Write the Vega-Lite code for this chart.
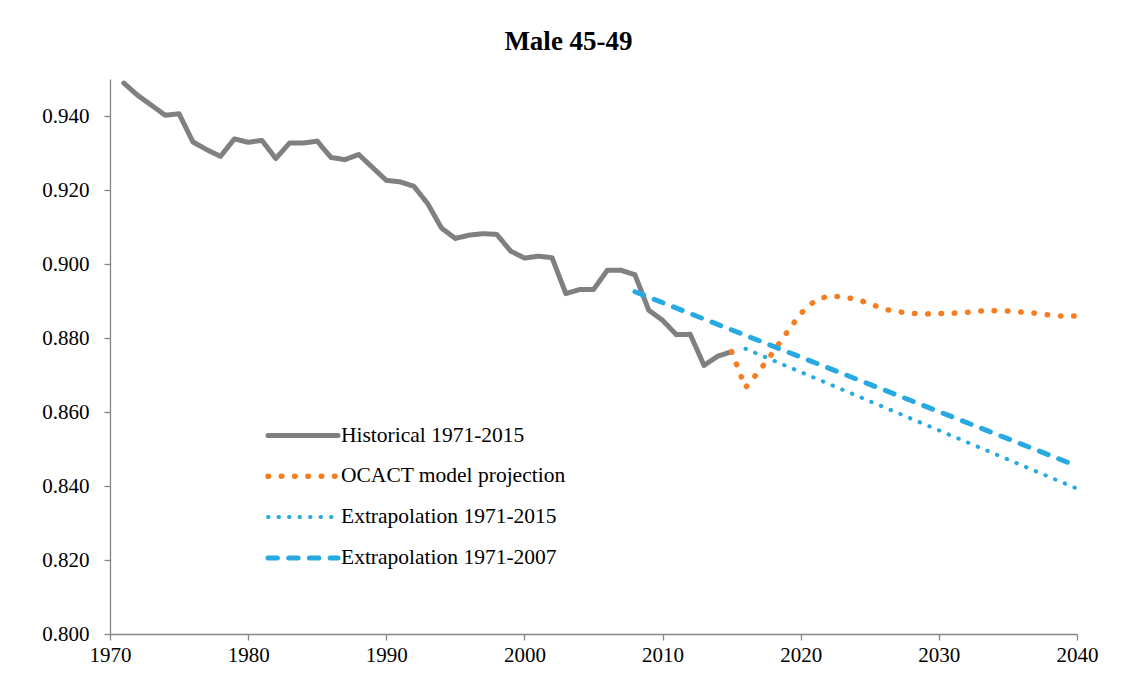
{
  "$schema": "https://vega.github.io/schema/vega-lite/v6.json",
  "width": 967,
  "height": 555,
  "autosize": {"type": "none"},
  "padding": {"left": 110, "top": 79, "right": 45, "bottom": 43},
  "background": "white",
  "title": {"text": "Male 45-49", "font": "Liberation Serif", "fontSize": 27, "fontWeight": "bold", "color": "black", "anchor": "middle", "frame": "group", "dx": -25, "baseline": "alphabetic", "offset": 2},
  "config": {"view": {"stroke": null}},
  "data": {"values": [
    {"series": "Historical 1971-2015", "year": 1971, "value": 0.9489},
    {"series": "Historical 1971-2015", "year": 1972, "value": 0.9456},
    {"series": "Historical 1971-2015", "year": 1973, "value": 0.9429},
    {"series": "Historical 1971-2015", "year": 1974, "value": 0.9402},
    {"series": "Historical 1971-2015", "year": 1975, "value": 0.9406},
    {"series": "Historical 1971-2015", "year": 1976, "value": 0.9330},
    {"series": "Historical 1971-2015", "year": 1977, "value": 0.9309},
    {"series": "Historical 1971-2015", "year": 1978, "value": 0.9291},
    {"series": "Historical 1971-2015", "year": 1979, "value": 0.9338},
    {"series": "Historical 1971-2015", "year": 1980, "value": 0.9329},
    {"series": "Historical 1971-2015", "year": 1981, "value": 0.9334},
    {"series": "Historical 1971-2015", "year": 1982, "value": 0.9285},
    {"series": "Historical 1971-2015", "year": 1983, "value": 0.9327},
    {"series": "Historical 1971-2015", "year": 1984, "value": 0.9327},
    {"series": "Historical 1971-2015", "year": 1985, "value": 0.9332},
    {"series": "Historical 1971-2015", "year": 1986, "value": 0.9288},
    {"series": "Historical 1971-2015", "year": 1987, "value": 0.9282},
    {"series": "Historical 1971-2015", "year": 1988, "value": 0.9296},
    {"series": "Historical 1971-2015", "year": 1989, "value": 0.9261},
    {"series": "Historical 1971-2015", "year": 1990, "value": 0.9226},
    {"series": "Historical 1971-2015", "year": 1991, "value": 0.9222},
    {"series": "Historical 1971-2015", "year": 1992, "value": 0.9210},
    {"series": "Historical 1971-2015", "year": 1993, "value": 0.9163},
    {"series": "Historical 1971-2015", "year": 1994, "value": 0.9097},
    {"series": "Historical 1971-2015", "year": 1995, "value": 0.9069},
    {"series": "Historical 1971-2015", "year": 1996, "value": 0.9078},
    {"series": "Historical 1971-2015", "year": 1997, "value": 0.9082},
    {"series": "Historical 1971-2015", "year": 1998, "value": 0.9080},
    {"series": "Historical 1971-2015", "year": 1999, "value": 0.9035},
    {"series": "Historical 1971-2015", "year": 2000, "value": 0.9016},
    {"series": "Historical 1971-2015", "year": 2001, "value": 0.9021},
    {"series": "Historical 1971-2015", "year": 2002, "value": 0.9017},
    {"series": "Historical 1971-2015", "year": 2003, "value": 0.8920},
    {"series": "Historical 1971-2015", "year": 2004, "value": 0.8931},
    {"series": "Historical 1971-2015", "year": 2005, "value": 0.8931},
    {"series": "Historical 1971-2015", "year": 2006, "value": 0.8983},
    {"series": "Historical 1971-2015", "year": 2007, "value": 0.8983},
    {"series": "Historical 1971-2015", "year": 2008, "value": 0.8971},
    {"series": "Historical 1971-2015", "year": 2009, "value": 0.8875},
    {"series": "Historical 1971-2015", "year": 2010, "value": 0.8848},
    {"series": "Historical 1971-2015", "year": 2011, "value": 0.8809},
    {"series": "Historical 1971-2015", "year": 2012, "value": 0.8810},
    {"series": "Historical 1971-2015", "year": 2013, "value": 0.8726},
    {"series": "Historical 1971-2015", "year": 2014, "value": 0.8751},
    {"series": "Historical 1971-2015", "year": 2015, "value": 0.8763},
    {"series": "OCACT model projection", "year": 2015, "value": 0.8763},
    {"series": "OCACT model projection", "year": 2016, "value": 0.8666},
    {"series": "OCACT model projection", "year": 2017, "value": 0.8711},
    {"series": "OCACT model projection", "year": 2018, "value": 0.8762},
    {"series": "OCACT model projection", "year": 2019, "value": 0.8815},
    {"series": "OCACT model projection", "year": 2020, "value": 0.8866},
    {"series": "OCACT model projection", "year": 2021, "value": 0.8900},
    {"series": "OCACT model projection", "year": 2022, "value": 0.8914},
    {"series": "OCACT model projection", "year": 2023, "value": 0.8911},
    {"series": "OCACT model projection", "year": 2024, "value": 0.8905},
    {"series": "OCACT model projection", "year": 2025, "value": 0.8893},
    {"series": "OCACT model projection", "year": 2026, "value": 0.8878},
    {"series": "OCACT model projection", "year": 2027, "value": 0.8871},
    {"series": "OCACT model projection", "year": 2028, "value": 0.8867},
    {"series": "OCACT model projection", "year": 2029, "value": 0.8865},
    {"series": "OCACT model projection", "year": 2030, "value": 0.8866},
    {"series": "OCACT model projection", "year": 2031, "value": 0.8867},
    {"series": "OCACT model projection", "year": 2032, "value": 0.8869},
    {"series": "OCACT model projection", "year": 2033, "value": 0.8873},
    {"series": "OCACT model projection", "year": 2034, "value": 0.8874},
    {"series": "OCACT model projection", "year": 2035, "value": 0.8873},
    {"series": "OCACT model projection", "year": 2036, "value": 0.8870},
    {"series": "OCACT model projection", "year": 2037, "value": 0.8867},
    {"series": "OCACT model projection", "year": 2038, "value": 0.8862},
    {"series": "OCACT model projection", "year": 2039, "value": 0.8859},
    {"series": "OCACT model projection", "year": 2040, "value": 0.8860},
    {"series": "Extrapolation 1971-2015", "year": 2016, "value": 0.8771},
    {"series": "Extrapolation 1971-2015", "year": 2040, "value": 0.8393},
    {"series": "Extrapolation 1971-2007", "year": 2008, "value": 0.8925},
    {"series": "Extrapolation 1971-2007", "year": 2040, "value": 0.8454}
  ]},
  "mark": {"type": "line", "strokeCap": "round", "strokeJoin": "round"},
  "encoding": {
    "x": {"field": "year", "type": "quantitative",
      "scale": {"domain": [1970, 2040], "nice": false, "zero": false},
      "axis": {"values": [1970, 1980, 1990, 2000, 2010, 2020, 2030, 2040], "format": "d", "title": null, "grid": false,
        "domainColor": "#868686", "domainWidth": 1.3, "tickColor": "#868686", "tickWidth": 1.3, "tickSize": 6,
        "labelFont": "Liberation Serif", "labelFontSize": 21, "labelColor": "black", "labelPadding": 4,
        "labelFlush": false, "labelOverlap": false}},
    "y": {"field": "value", "type": "quantitative",
      "scale": {"domain": [0.8, 0.95], "nice": false, "zero": false},
      "axis": {"values": [0.8, 0.82, 0.84, 0.86, 0.88, 0.9, 0.92, 0.94], "format": ".3f", "title": null, "grid": false,
        "domainColor": "#868686", "domainWidth": 1.3, "tickColor": "#868686", "tickWidth": 1.3, "tickSize": 6,
        "labelFont": "Liberation Serif", "labelFontSize": 21, "labelColor": "black", "labelPadding": 15,
        "labelFlush": false, "labelOverlap": false}},
    "color": {"field": "series", "type": "nominal",
      "scale": {"domain": ["Historical 1971-2015", "OCACT model projection", "Extrapolation 1971-2015", "Extrapolation 1971-2007"],
        "range": ["#808080", "#F67D22", "#27AAE1", "#27AAE1"]},
      "legend": {"title": null, "orient": "none", "legendX": 155, "legendY": 345.5, "symbolType": "stroke", "symbolSize": 4900, "clipHeight": 22,
        "labelFont": "Liberation Serif", "labelFontSize": 21.5, "labelColor": "black", "rowPadding": 18.8, "labelOffset": 0, "labelLimit": 500,
        "encode": {"symbols": {"update": {"strokeCap": {"value": "round"}}}}}},
    "strokeDash": {"field": "series", "type": "nominal",
      "scale": {"domain": ["Historical 1971-2015", "OCACT model projection", "Extrapolation 1971-2015", "Extrapolation 1971-2007"],
        "range": [[1, 0], [0.5, 12.8], [0.5, 10], [9.4, 11.3]]},
      "legend": {"title": null, "orient": "none", "legendX": 155, "legendY": 345.5, "symbolType": "stroke", "symbolSize": 4900, "clipHeight": 22,
        "labelFont": "Liberation Serif", "labelFontSize": 21.5, "labelColor": "black", "rowPadding": 18.8, "labelOffset": 0, "labelLimit": 500,
        "encode": {"symbols": {"update": {"strokeCap": {"value": "round"}}}}}},
    "strokeWidth": {"field": "series", "type": "nominal",
      "scale": {"type": "ordinal", "domain": ["Historical 1971-2015", "OCACT model projection", "Extrapolation 1971-2015", "Extrapolation 1971-2007"],
        "range": [5, 5.5, 4, 5]},
      "legend": {"title": null, "orient": "none", "legendX": 155, "legendY": 345.5, "symbolType": "stroke", "symbolSize": 4900, "clipHeight": 22,
        "labelFont": "Liberation Serif", "labelFontSize": 21.5, "labelColor": "black", "rowPadding": 18.8, "labelOffset": 0, "labelLimit": 500,
        "encode": {"symbols": {"update": {"strokeCap": {"value": "round"}}}}}}
  }
}
